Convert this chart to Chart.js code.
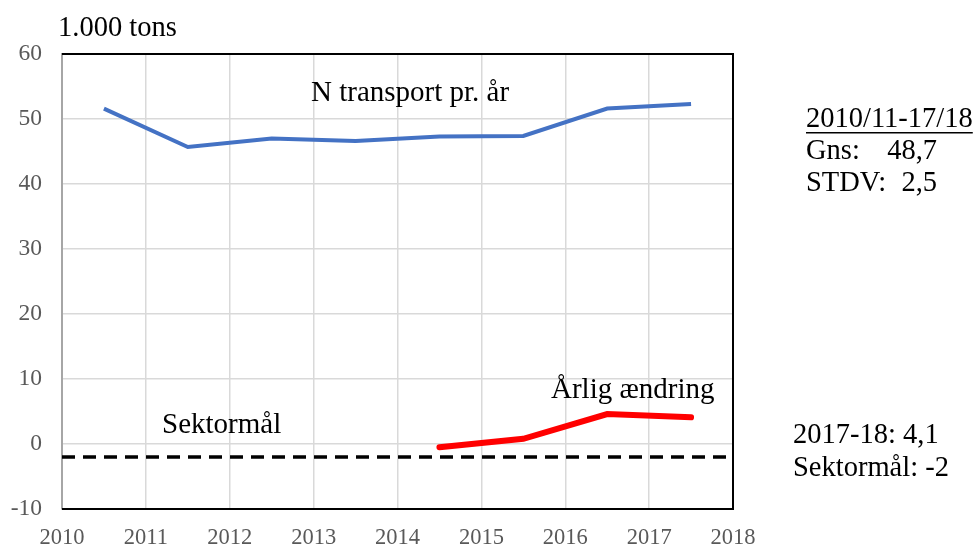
<!DOCTYPE html>
<html>
<head>
<meta charset="utf-8">
<script src="https://cdn.jsdelivr.net/npm/chart.js@4"></script>
<style>
  body { margin: 0; background: #fff; }
  #wrap { width: 979px; height: 548px; }
</style>
</head>
<body>
<div id="wrap"><canvas id="myChart" width="979" height="548"></canvas></div>
<script>
// data (1.000 tons)
var transportX = [2010.5, 2011.5, 2012.5, 2013.5, 2014.5, 2015.5, 2016.5, 2017.5];
var transportY = [51.6, 45.7, 47.0, 46.6, 47.3, 47.4, 51.6, 52.3];

var changeX = [2014.5, 2015.5, 2016.5, 2017.5];
var changeY = [-0.5, 0.8, 4.6, 4.1];

var targetX = [2010, 2018];
var targetY = [-2, -2];

var xTicks = [2010, 2011, 2012, 2013, 2014, 2015, 2016, 2017, 2018];
var yTicks = [-10, 0, 10, 20, 30, 40, 50, 60];

function pts(xs, ys) {
    return xs.map(function (x, i) { return { x: x, y: ys[i] }; });
}

var serif = "'Liberation Serif', 'Times New Roman', serif";

// plot frame + text labels
var extras = {
    id: 'extras',
    afterDraw: function (chart) {
        var c = chart.ctx, a = chart.chartArea;
        c.save();
        c.strokeStyle = '#000';
        c.lineWidth = 2;
        c.beginPath();
        c.moveTo(a.left, a.top);
        c.lineTo(a.right, a.top);
        c.lineTo(a.right, a.bottom);
        c.lineTo(a.left, a.bottom);
        c.stroke();

        c.fillStyle = '#000';
        c.textBaseline = 'alphabetic';
        c.textAlign = 'left';
        c.font = '28.5px ' + serif;
        c.fillText('1.000 tons', 58, 36);
        c.font = '29px ' + serif;
        c.fillText('N transport pr. år', 311, 101);
        c.fillText('Sektormål', 162, 433);
        c.fillText('Årlig ændring', 551, 398);

        c.font = '28.5px ' + serif;
        c.fillText('2010/11-17/18', 806, 127);
        var w = c.measureText('2010/11-17/18').width;
        c.fillRect(806, 132, w, 1.5);
        c.fillText('Gns:', 806, 159);
        c.fillText('STDV:', 806, 191);
        c.fillText('2017-18: 4,1', 793, 443);
        c.fillText('Sektormål: -2', 793, 476);
        c.textAlign = 'right';
        c.fillText('48,7', 937, 159);
        c.fillText('2,5', 937, 191);
        c.restore();
    }
};

new Chart(document.getElementById('myChart'), {
    type: 'line',
    data: {
        datasets: [{
            label: 'N transport pr. år',
            data: pts(transportX, transportY),
            borderColor: '#4472c4',
            borderWidth: 4,
            pointRadius: 0,
            tension: 0
        }, {
            label: 'Årlig ændring',
            data: pts(changeX, changeY),
            borderColor: '#ff0000',
            borderWidth: 6,
            borderCapStyle: 'round',
            pointRadius: 0,
            tension: 0
        }, {
            label: 'Sektormål',
            data: pts(targetX, targetY),
            borderColor: '#000',
            borderWidth: 3.5,
            borderDash: [13, 8],
            pointRadius: 0,
            tension: 0
        }]
    },
    options: {
        responsive: false,
        animation: false,
        layout: { padding: { top: 54, right: 246, left: 0, bottom: 0 } },
        plugins: { legend: { display: false }, tooltip: { enabled: false } },
        scales: {
            x: {
                type: 'linear',
                min: 2010,
                max: 2018,
                afterBuildTicks: function (s) { s.ticks = xTicks.map(function (v) { return { value: v }; }); },
                afterFit: function (s) { s.height = 39; },
                ticks: {
                    callback: function (v) { return String(v); },
                    font: { family: serif, size: 22.5 },
                    color: '#595959',
                    padding: 16,
                    maxRotation: 0
                },
                grid: { color: '#d9d9d9', lineWidth: 1.5, drawTicks: false },
                border: { display: false }
            },
            y: {
                min: -10,
                max: 60,
                afterBuildTicks: function (s) { s.ticks = yTicks.map(function (v) { return { value: v }; }); },
                afterFit: function (s) { s.width = 62; },
                ticks: {
                    font: { family: serif, size: 23.5 },
                    color: '#595959',
                    padding: 20
                },
                grid: { color: '#d9d9d9', lineWidth: 1.5, drawTicks: false },
                border: { color: '#a6a6a6', width: 2 }
            }
        }
    },
    plugins: [extras]
});
</script>
</body>
</html>
